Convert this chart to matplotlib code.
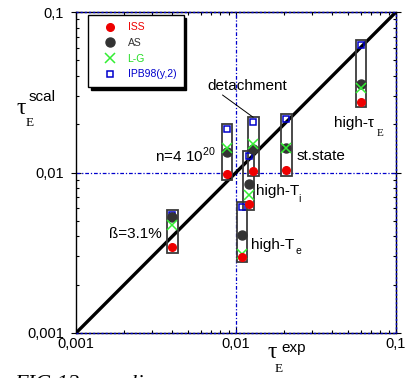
import matplotlib
matplotlib.use("Agg")
import matplotlib.pyplot as plt
from matplotlib.patches import Rectangle

plt.rcParams['font.family'] = ['Liberation Sans', 'DejaVu Sans']
plt.rcParams['mathtext.fontset'] = 'custom'
plt.rcParams['mathtext.rm'] = 'Liberation Sans'

# confinement time, experiment vs. scaling laws (s)
cases = ['beta', 'density', 'detachment', 'high-Ti', 'high-Te', 'st.state', 'high-tauE']
tau_exp = [0.0040, 0.0088, 0.0128, 0.0120, 0.0109, 0.0206, 0.0603]
tau_iss = [0.00342, 0.0098, 0.01026, 0.00634, 0.00299, 0.01037, 0.0276]
tau_as = [0.00531, 0.01336, 0.01396, 0.00844, 0.00408, 0.01415, 0.0355]
tau_lg = [0.00471, 0.01415, 0.01506, 0.00724, 0.00311, 0.01415, 0.0338]
tau_ipb = [0.0054, 0.01875, 0.02055, 0.01273, 0.00612, 0.02154, 0.0623]

tick_vals = [0.001, 0.01, 0.1]
tick_labels = ['0,001', '0,01', '0,1']

W, H = 414, 378
fig = plt.figure(figsize=(W / 100, H / 100), dpi=100)
ax = fig.add_axes([76 / W, 1 - 333 / H, 320 / W, 321 / H])
ax.set_xscale('log')
ax.set_yscale('log')
ax.set_xlim(0.001, 0.1)
ax.set_ylim(0.001, 0.1)


def fpx(x, y):
    return x / W, 1 - y / H


blue = '#0000cc'
# y = x line and the 0.01 cross-hairs
ax.plot(tick_vals, tick_vals, color='k', lw=2.4, zorder=3, solid_capstyle='butt')
ax.axvline(0.01, color=blue, lw=0.9, ls=(0, (3, 1.5, 1, 1.5)), zorder=2)
ax.axhline(0.01, color=blue, lw=0.9, ls=(0, (3, 1.5, 1, 1.5)), zorder=2)
ax.axvline(0.1, color=blue, lw=1.0, ls=(0, (1.5, 1.5)), zorder=4, clip_on=False)
ax.axhline(0.1, color=blue, lw=1.0, ls=(0, (1.5, 1.5)), zorder=4, clip_on=False)
ax.axhline(0.001, color=blue, lw=1.0, ls=(0, (1.5, 1.5)), zorder=4, clip_on=False)

# one frame around each case
for i in range(len(cases)):
    vals = [tau_iss[i], tau_as[i], tau_lg[i], tau_ipb[i]]
    x0 = tau_exp[i] / 1.08
    y0 = min(vals) / 1.085
    y1 = max(vals) * 1.075
    ax.add_patch(Rectangle((x0, y0), tau_exp[i] * 1.08 - x0, y1 - y0,
                           fill=False, edgecolor='#3a3a3a', lw=1.3, zorder=3))

ax.plot(tau_exp, tau_ipb, ls='none', marker='s', ms=5, mfc='none', mec=blue,
        mew=1.1, zorder=5, label='IPB98(y,2)')
ax.plot(tau_exp, tau_as, ls='none', marker='o', ms=6.5, color='#333333',
        zorder=6, label='AS')
ax.plot(tau_exp, tau_lg, ls='none', marker='x', ms=6.5, mew=1.1,
        color='#33ee33', zorder=7, label='L-G')
ax.plot(tau_exp, tau_iss, ls='none', marker='o', ms=5.5, color='#ee0000',
        zorder=8, label='ISS')

ax.set_xticks(tick_vals, labels=tick_labels)
ax.set_yticks(tick_vals, labels=tick_labels)
ax.tick_params(which='both', direction='in', top=True, right=True,
               labelsize=10.5, width=0.8)
ax.tick_params(which='major', length=4)
ax.tick_params(which='minor', length=2.5)
ax.tick_params(axis='y', which='major', direction='inout', length=7, pad=5)
ax.tick_params(axis='x', which='major', pad=3)
for s in ax.spines.values():
    s.set_linewidth(1.0)

# legend in the custom order
h, l = ax.get_legend_handles_labels()
order = [3, 1, 2, 0]
leg = fig.legend([h[k] for k in order], [l[k] for k in order],
                 loc='upper left', bbox_to_anchor=fpx(88, 15),
                 bbox_transform=fig.transFigure, fontsize=7.5,
                 frameon=True, fancybox=False, borderpad=0.7,
                 handlelength=2.8, handletextpad=0.3, labelspacing=0.55,
                 borderaxespad=0, shadow={'color': 'k', 'alpha': 1})
leg.get_frame().set_edgecolor('k')
leg.get_frame().set_linewidth(1.0)
for txt, c in zip(leg.get_texts(), ['#ee0000', '#333333', '#22dd22', blue]):
    txt.set_color(c)

# axis titles
fig.text(*fpx(21, 109), 'τ', fontsize=17, family='Liberation Serif',
         ha='center', va='center')
fig.text(*fpx(29, 97), 'scal', fontsize=11, ha='left', va='center')
fig.text(*fpx(30, 122.5), 'E', fontsize=9.5, family='Liberation Serif',
         ha='center', va='center')
fig.text(*fpx(272.5, 352), 'τ', fontsize=17, family='Liberation Serif',
         ha='center', va='center')
fig.text(*fpx(281.5, 348), 'exp', fontsize=11, ha='left', va='center')
fig.text(*fpx(279, 369), 'E', fontsize=9.5, family='Liberation Serif',
         ha='center', va='center')

# case labels
lab = dict(fontsize=11, va='center')
fig.text(*fpx(162, 234), 'ß=3.1%', ha='right', **lab)
fig.text(*fpx(155, 155), 'n=4 10$^{20}$', ha='left', **lab)
fig.text(*fpx(207, 86), 'detachment', ha='left', **lab)
fig.text(*fpx(296.5, 155.5), 'st.state', ha='left', **lab)
fig.text(*fpx(256.5, 191.5), 'high-T', ha='left', **lab)
fig.text(*fpx(299.5, 198.5), 'i', fontsize=7.5, ha='center', va='center')
fig.text(*fpx(251.5, 245), 'high-T', ha='left', **lab)
fig.text(*fpx(298.5, 251.5), 'e', fontsize=7.5, ha='center', va='center')
fig.text(*fpx(334, 122.5), 'high-τ', ha='left', **lab)
fig.text(*fpx(380.5, 133), 'E', fontsize=8, family='Liberation Serif',
         ha='center', va='center')
ax.annotate('', xy=(tau_exp[2], tau_ipb[2] * 1.075), xycoords='data',
            xytext=(222.5, H - 95), textcoords='figure pixels',
            arrowprops=dict(arrowstyle='-', color='k', lw=0.7,
                            shrinkA=0, shrinkB=0))

# caption, running off the bottom edge
fig.text(*fpx(14, 375), 'FIG.12    scaling', fontsize=16, style='italic',
         family='Liberation Serif', ha='left', va='top')

fig.savefig('out.png', dpi=100)
